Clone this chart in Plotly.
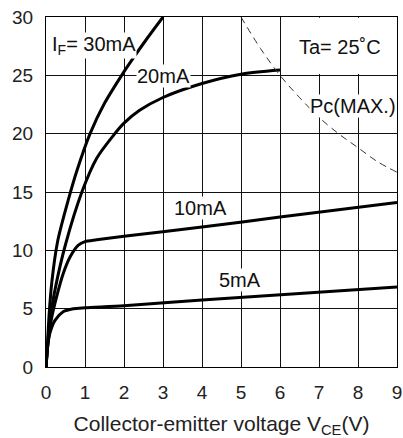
import plotly.graph_objects as go

# Data
vce_30 = [0, 0.03, 0.08, 0.15, 0.3, 0.57, 0.8, 1.13, 1.5, 1.94, 2.2, 2.6, 3.0]
ic_30 = [0, 1.5, 4.5, 7.3, 10.8, 14.3, 16.9, 20.0, 22.6, 25.0, 26.3, 28.2, 30.0]

vce_20 = [0, 0.03, 0.1, 0.26, 0.5, 0.92, 1.3, 1.74, 2.0, 2.4, 3.0, 4.0, 5.0, 6.0]
ic_20 = [0, 1.3, 4.0, 7.1, 10.5, 15.0, 17.9, 19.9, 20.9, 22.0, 23.1, 24.3, 25.1, 25.45]

vce_10 = [0, 0.05, 0.15, 0.27, 0.44, 0.62, 0.83, 1.0, 1.3, 2.0, 4.0, 6.0, 9.0]
ic_10 = [0, 2.0, 4.3, 6.0, 8.0, 9.45, 10.45, 10.75, 10.9, 11.2, 12.0, 12.85, 14.1]

vce_5 = [0, 0.03, 0.1, 0.23, 0.44, 0.7, 1.0, 2.0, 4.0, 9.0]
ic_5 = [0, 1.45, 2.9, 4.0, 4.74, 5.0, 5.08, 5.25, 5.75, 6.85]

pc_v = [5, 5.5, 6, 6.5, 7, 7.5, 8, 8.5, 9]
pc_i = [30, 27.3, 25, 23.1, 21.4, 20, 18.8, 17.6, 16.7]

x_ticks = [0, 1, 2, 3, 4, 5, 6, 7, 8, 9]
y_ticks = [0, 5, 10, 15, 20, 25, 30]

FONT = "Liberation Sans, Arial, sans-serif"

fig = go.Figure()
for xs, ys in [(vce_30, ic_30), (vce_20, ic_20), (vce_10, ic_10), (vce_5, ic_5)]:
    fig.add_trace(go.Scatter(x=xs, y=ys, mode="lines",
                             line=dict(color="black", width=3, shape="spline", smoothing=0.7),
                             showlegend=False, hoverinfo="skip"))
fig.add_trace(go.Scatter(x=pc_v, y=pc_i, mode="lines",
                         line=dict(color="#333333", width=1, dash="7px,5px", shape="spline"),
                         showlegend=False, hoverinfo="skip"))

# white box behind Ta label
fig.add_shape(type="rect", x0=6.04, x1=8.97, y0=25.12, y1=29.93, xref="x", yref="y",
              fillcolor="white", line=dict(width=0), layer="above")

def ann(text, x, y):
    fig.add_annotation(x=x, y=y, text=text, showarrow=False, xanchor="center", yanchor="middle",
                       font=dict(family=FONT, size=20, color="#111111"),
                       bgcolor="white", borderpad=0)

ann("I<sub>F</sub>= 30mA", 1.23, 27.6)
ann("20mA", 3.0, 24.95)
ann("10mA", 3.95, 13.67)
ann("5mA", 4.97, 7.45)
ann("Ta= 25˚C", 7.55, 27.4)
ann("Pc(MAX.)", 7.86, 22.4)

tickfont = dict(family=FONT, size=19, color="#222222")

fig.update_layout(
    template="none",
    width=403, height=438,
    margin=dict(l=46, r=6, t=17, b=71, autoexpand=False),
    plot_bgcolor="white", paper_bgcolor="white",
    font=dict(family=FONT),
    hovermode=False,
    xaxis=dict(range=[0, 9], tickmode="array", tickvals=x_ticks,
               ticktext=[str(v) for v in x_ticks],
               showgrid=True, gridcolor="#111111", gridwidth=1,
               showline=True, linecolor="#000000", linewidth=1, mirror=True,
               zeroline=False, ticks="", tickfont=tickfont, automargin=False,
               ticklabelstandoff=8, ticklabeloverflow="allow",
               title=dict(text="Collector-emitter voltage V<sub>CE</sub>(V)",
                          font=dict(family=FONT, size=21, color="#222222"), standoff=14)),
    yaxis=dict(range=[0, 30], tickmode="array", tickvals=y_ticks,
               ticktext=[str(v) for v in y_ticks],
               showgrid=True, gridcolor="#111111", gridwidth=1,
               showline=True, linecolor="#000000", linewidth=1, mirror=True,
               zeroline=False, ticks="", tickfont=tickfont, automargin=False,
               ticklabelstandoff=8, ticklabeloverflow="allow"),
)

# remove the default page margin so the 403x438 figure fills the window exactly
fig.write_html("out.html", config={"displayModeBar": False},
               post_script="document.body.style.margin='0';document.body.style.overflow='hidden';")
